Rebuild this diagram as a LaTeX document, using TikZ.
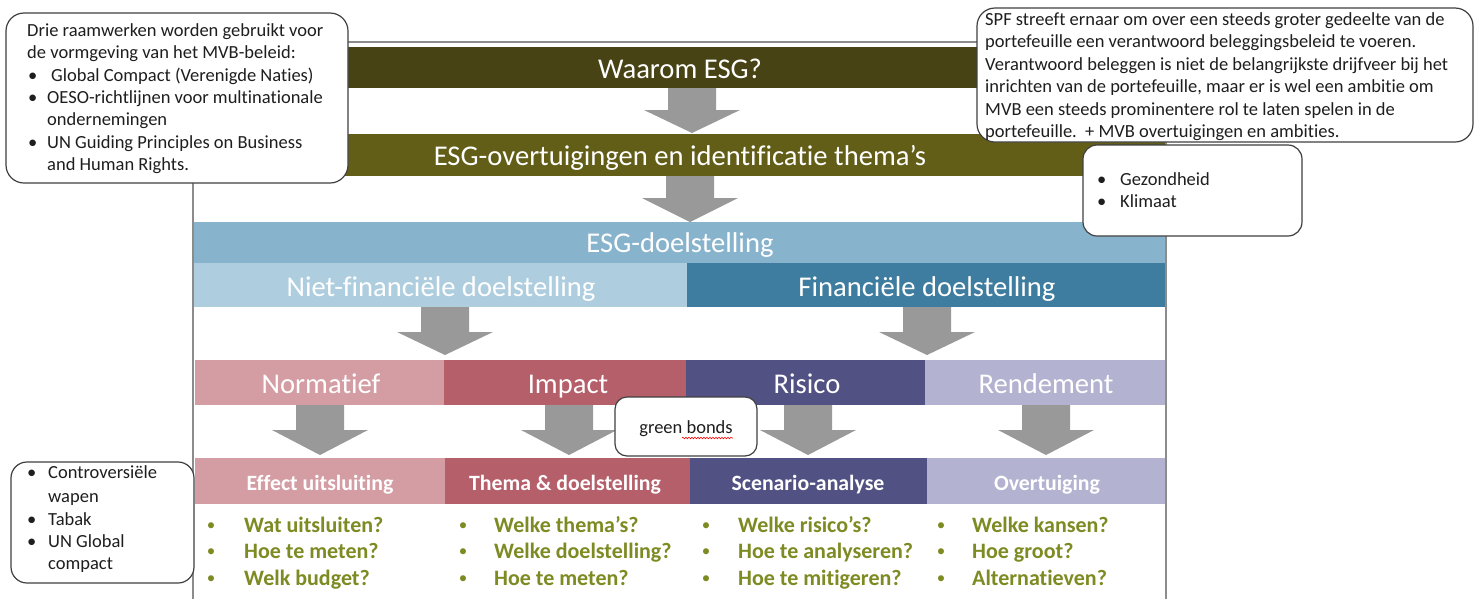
\documentclass[tikz,border=0pt]{standalone}
\usepackage{fontspec}
\setmainfont{Carlito}[Ligatures={TeX,NoCommon}]
\usetikzlibrary{decorations.pathmorphing}
\definecolor{oliveDark}{RGB}{71,67,20}
\definecolor{oliveMid}{RGB}{98,94,24}
\definecolor{esgblue}{RGB}{135,179,205}
\definecolor{lightblue}{RGB}{174,206,224}
\definecolor{finblue}{RGB}{63,125,160}
\definecolor{normpink}{RGB}{212,157,163}
\definecolor{impactred}{RGB}{181,95,106}
\definecolor{risicoblue}{RGB}{82,81,131}
\definecolor{rendlav}{RGB}{179,179,209}
\definecolor{qgreen}{RGB}{126,138,34}
\definecolor{arrowgray}{RGB}{153,153,153}
\definecolor{framegray}{RGB}{140,140,140}
\definecolor{calloutedge}{RGB}{64,64,64}
\definecolor{ctextcol}{RGB}{30,30,30}
\newcommand\blkarrow[4]{%
  \fill[arrowgray] (#1-24,#2) -- (#1+24,#2) -- (#1+24,#3) -- (#1+48,#3) -- (#1,#4) -- (#1-48,#3) -- (#1-24,#3) -- cycle;}
\begin{document}
\begin{tikzpicture}[x=1pt,y=-1pt,
  bar/.style={draw=none, inner sep=0pt, outer sep=0pt, anchor=north west},
  bartext/.style={text=white, inner sep=0pt, anchor=base, font=\fontsize{28.6}{34}\selectfont},
  subtext/.style={text=white, inner sep=0pt, anchor=base, font=\fontsize{21.8}{26}\selectfont\bfseries},
  qtext/.style={text=qgreen, inner sep=0pt, anchor=base west, font=\fontsize{22}{26}\selectfont\bfseries},
  qbullet/.style={text=qgreen, inner sep=0pt, anchor=base, font=\fontsize{17}{20}\selectfont},
  callout/.style={draw=calloutedge, line width=1.2pt, fill=white, rounded corners=18pt},
  ctext/.style={inner sep=0pt, anchor=base west, text=ctextcol, font=\fontsize{18.5}{22.3}\selectfont},
]
\useasboundingbox (0,0) rectangle (1474,598);
\fill[white] (0,0) rectangle (1474,598);

% frame
\draw[framegray, line width=2.2pt] (193,610) -- (193,42) -- (1166,42) -- (1166,610);

% bars
\node[bar, fill=oliveDark, minimum width=971pt, minimum height=41pt] (waarom) at (194,47) {};
\node[bar, fill=oliveMid, minimum width=971pt, minimum height=42pt] (esgo) at (194,134) {};
\node[bar, fill=esgblue, minimum width=971pt, minimum height=41pt] (esgd) at (194,222) {};
\node[bar, fill=lightblue, minimum width=493pt, minimum height=44pt] (nietfin) at (194,263) {};
\node[bar, fill=finblue, minimum width=478pt, minimum height=44pt] (fin) at (687,263) {};
\node[bar, fill=normpink, minimum width=249pt, minimum height=45pt] (norm) at (195,360) {};
\node[bar, fill=impactred, minimum width=242pt, minimum height=45pt] (impact) at (444,360) {};
\node[bar, fill=risicoblue, minimum width=239pt, minimum height=45pt] (risico) at (686,360) {};
\node[bar, fill=rendlav, minimum width=240pt, minimum height=45pt] (rend) at (925,360) {};
\node[bar, fill=normpink, minimum width=250pt, minimum height=46pt] (effect) at (195,458) {};
\node[bar, fill=impactred, minimum width=245pt, minimum height=46pt] (thema) at (445,458) {};
\node[bar, fill=risicoblue, minimum width=237pt, minimum height=46pt] (scen) at (690,458) {};
\node[bar, fill=rendlav, minimum width=238pt, minimum height=46pt] (overt) at (927,458) {};

% bar texts
\node[bartext] (twaarom) at (680,78) {Waarom ESG?};
\node[bartext] (tesgo) at (680,165) {ESG-overtuigingen en identificatie thema’s};
\node[bartext] (tesgd) at (680,252) {ESG-doelstelling};
\node[bartext] (tniet) at (441,296) {Niet-financiële doelstelling};
\node[bartext] (tfin) at (927,296) {Financiële doelstelling};
\node[bartext] (tnorm) at (321,393) {Normatief};
\node[bartext] (timp) at (568,393) {Impact};
\node[bartext] (tris) at (807,393) {Risico};
\node[bartext] (trend) at (1046,393) {Rendement};
\node[subtext] (teff) at (320,490) {Effect uitsluiting};
\node[subtext] (tthe) at (565,490) {Thema \& doelstelling};
\node[subtext] (tsce) at (808,490) {Scenario-analyse};
\node[subtext] (tove) at (1047,490) {Overtuiging};

% block arrows
\blkarrow{692}{88}{110}{133}
\blkarrow{690}{176}{198}{222}
\blkarrow{445}{307}{332}{355}
\blkarrow{927}{307}{332}{355}
\blkarrow{320}{405}{430}{455}
\blkarrow{569}{405}{430}{455}
\blkarrow{808}{405}{430}{455}
\blkarrow{1046}{405}{430}{455}

% question lists
\foreach \bx/\tx/\nm/\qa/\qb/\qc in {
  211/244/a/{Wat uitsluiten?}/{Hoe te meten?}/{Welk budget?},
  463/494/b/{Welke thema’s?}/{Welke doelstelling?}/{Hoe te meten?},
  706/738/c/{Welke risico’s?}/{Hoe te analyseren?}/{Hoe te mitigeren?},
  941/972/d/{Welke kansen?}/{Hoe groot?}/{Alternatieven?}}{
  \node[qbullet] (qb1\nm) at (\bx,530) {•};
  \node[qbullet] (qb2\nm) at (\bx,556) {•};
  \node[qbullet] (qb3\nm) at (\bx,583) {•};
  \node[qtext] (q1\nm) at (\tx,532) {\qa};
  \node[qtext] (q2\nm) at (\tx,558) {\qb};
  \node[qtext] (q3\nm) at (\tx,585) {\qc};
}

% callout top-left
\draw[callout] (6,13) rectangle (348,183);
\node[ctext] (tl1) at (27,36) {Drie raamwerken worden gebruikt voor};
\node[ctext] (tl2) at (27,58) {de vormgeving van het MVB-beleid:};
\node[ctext] (tl3b) at (28,81) {•};
\node[ctext] (tl3) at (51,81) {Global Compact (Verenigde Naties)};
\node[ctext] (tl4b) at (28,103) {•};
\node[ctext] (tl4) at (47,103) {OESO-richtlijnen voor multinationale};
\node[ctext] (tl5) at (47,125) {ondernemingen};
\node[ctext] (tl6b) at (28,148) {•};
\node[ctext] (tl6) at (47,148) {UN Guiding Principles on Business};
\node[ctext] (tl7) at (47,170) {and Human Rights.};

% callout top-right
\draw[callout] (977,8) rectangle (1473,142);
\node[ctext] (tr1) at (985,25) {SPF streeft ernaar om over een steeds groter gedeelte van de};
\node[ctext] (tr2) at (985,47) {portefeuille een verantwoord beleggingsbeleid te voeren.};
\node[ctext] (tr3) at (985,70) {Verantwoord beleggen is niet de belangrijkste drijfveer bij het};
\node[ctext] (tr4) at (985,92) {inrichten van de portefeuille, maar er is wel een ambitie om};
\node[ctext] (tr5) at (985,115) {MVB een steeds prominentere rol te laten spelen in de};
\node[ctext] (tr6) at (985,137) {portefeuille.\ \ + MVB overtuigingen en ambities.};

% callout themes
\draw[callout, rounded corners=14pt] (1083,145) rectangle (1302,236);
\node[ctext] (th1b) at (1097,185) {•};
\node[ctext] (th1) at (1120,185) {Gezondheid};
\node[ctext] (th2b) at (1097,207) {•};
\node[ctext] (th2) at (1120,207) {Klimaat};

% callout exclusions
\draw[callout, rounded corners=16pt] (11,462) rectangle (194,583);
\node[ctext] (ex1b) at (27,478) {•};
\node[ctext] (ex1) at (48,478) {Controversiële};
\node[ctext] (ex2) at (48,502) {wapen};
\node[ctext] (ex3b) at (27,525) {•};
\node[ctext] (ex3) at (48,525) {Tabak};
\node[ctext] (ex4b) at (27,547) {•};
\node[ctext] (ex4) at (48,547) {UN Global};
\node[ctext] (ex5) at (48,569) {compact};

% green bonds
\draw[callout, rounded corners=12pt] (615,397) rectangle (757,456);
\node[ctext, anchor=base] (gb) at (686,433) {green bonds};
\draw[red, line width=0.6pt, decorate, decoration={snake, amplitude=0.8pt, segment length=3pt}] (682,438) -- (733,438);
\end{tikzpicture}
\end{document}
